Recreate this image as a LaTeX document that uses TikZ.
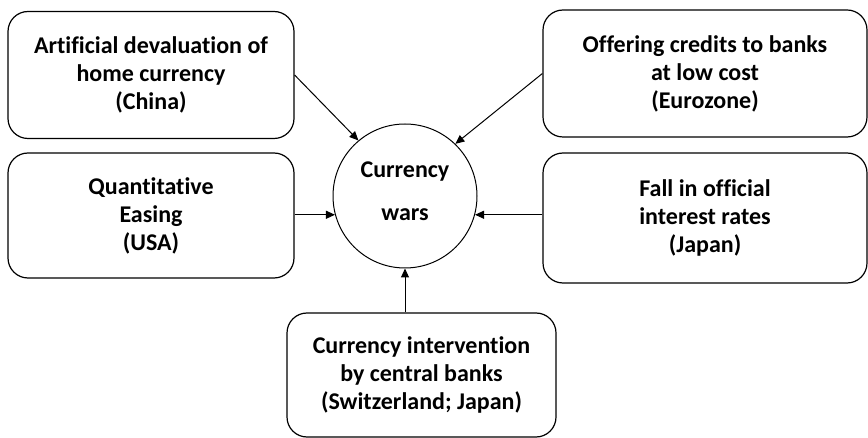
\documentclass[tikz,border=0pt]{standalone}
\usepackage{fontspec}
\setmainfont{Carlito}[RawFeature={-liga;-dlig;-clig}]
\usetikzlibrary{arrows.meta}
\begin{document}
\begin{tikzpicture}[x=1pt,y=-1pt,
  box/.style={draw=black,line width=1.2pt,rounded corners=20pt,align=center,
    font=\fontsize{24}{28}\selectfont\bfseries,inner sep=0pt},
  circ/.style={draw=black,line width=1pt,circle,minimum size=144pt,inner sep=0pt},
  circtext/.style={align=center,inner sep=0pt,font=\fontsize{24}{43}\selectfont\bfseries},
  arr/.style={line width=1pt,-{Triangle[length=9pt,width=8pt]}}]
\useasboundingbox (0,0) rectangle (868,438);
\node[box,minimum width=286pt,minimum height=127pt] (b1) at (151,75)
  {Artificial devaluation of\\home currency\\(China)};
\node[box,minimum width=286pt,minimum height=125pt] (b2) at (151,215.5)
  {Quantitative\\Easing\\(USA)};
\node[box,minimum width=324pt,minimum height=127pt] (b3) at (705,73.5)
  {Offering credits to banks\\at low cost\\(Eurozone)};
\node[box,minimum width=324pt,minimum height=130pt] (b4) at (705,218)
  {Fall in official\\interest rates\\(Japan)};
\node[box,minimum width=269pt,minimum height=124pt] (b5) at (421.5,375)
  {Currency intervention\\by central banks\\(Switzerland; Japan)};
\node[circ] (c) at (405,196) {};
\node[circtext] (ct) at ([yshift=5pt]c.center) {Currency\\wars};
\draw[arr] (b1.east) -- (c.130);
\draw[arr] (b3.west) -- (c.46);
\draw[arr] (b2.east |- c.195) -- (c.195);
\draw[arr] (b4.west |- c.-15) -- (c.-15);
\draw[arr] (b5.north -| c.south) -- (c.south);
\end{tikzpicture}
\end{document}
